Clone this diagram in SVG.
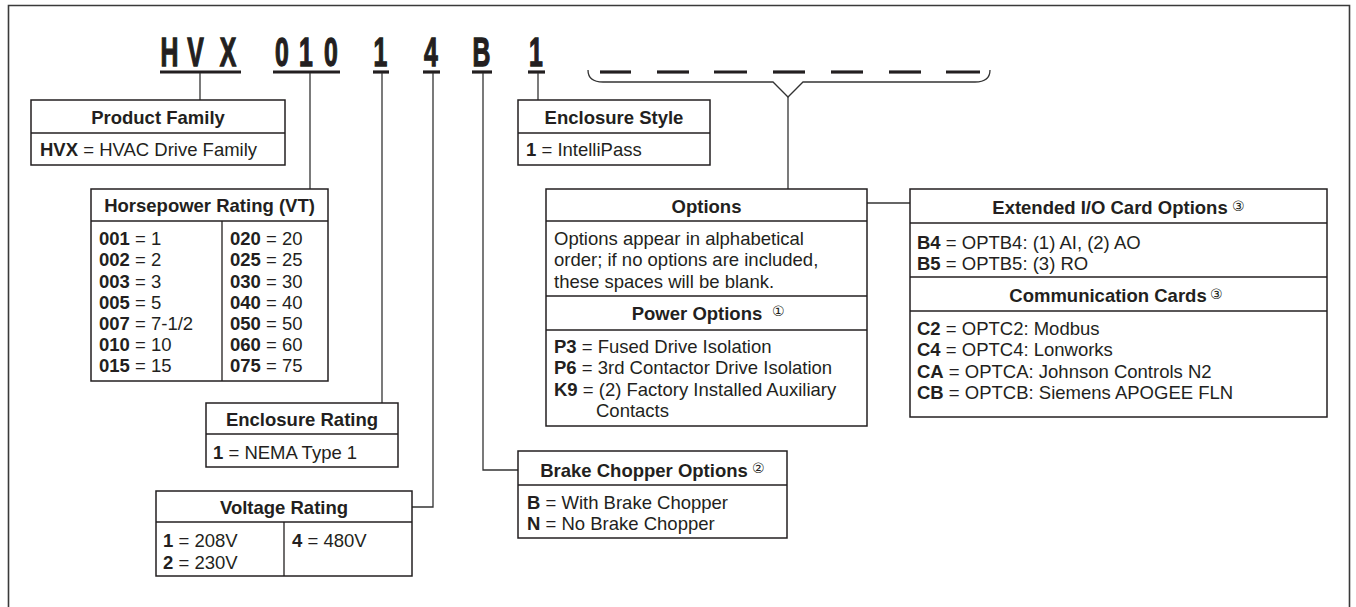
<svg xmlns="http://www.w3.org/2000/svg" width="1356" height="607" viewBox="0 0 1356 607">
<style>
.frame{fill:none;stroke:#3a3a3a;stroke-width:1.6}
.box{fill:#fff;stroke:#231f20;stroke-width:1.5}
.div{fill:none;stroke:#231f20;stroke-width:1.3}
.ln{fill:none;stroke:#333;stroke-width:1.3}
.ul{stroke:#231f20;stroke-width:3.2}
.code{font-family:"Liberation Sans",Arial,sans-serif;font-weight:bold;font-size:40px;fill:#231f20;stroke:#231f20;stroke-width:1.3;text-anchor:middle}
.h{font-family:"Liberation Sans",Arial,sans-serif;font-weight:bold;font-size:18.5px;fill:#231f20;text-anchor:middle}
.t{font-family:"Liberation Sans",Arial,sans-serif;font-size:18.5px;fill:#231f20}
.t tspan.b{font-weight:bold}
.n{font-family:"DejaVu Sans","Noto Sans CJK SC",sans-serif;font-size:14px;fill:#231f20;font-weight:normal}
</style>
<rect width="1356" height="607" fill="#fff"/>
<path class="frame" d="M8.5,607 L8.5,5.5 L1349.5,5.5 L1349.5,607"/>

<g id="code">
  <g transform="scale(0.62,1)">
    <text class="code" x="273.4" y="66">H</text>
    <text class="code" x="315.3" y="66">V</text>
    <text class="code" x="367.7" y="66">X</text>
    <text class="code" x="454.8" y="66">0</text>
    <text class="code" x="493.5" y="66">1</text>
    <text class="code" x="533.9" y="66">0</text>
    <text class="code" x="613.7" y="66">1</text>
    <text class="code" x="695.2" y="66">4</text>
    <text class="code" x="776.6" y="66">B</text>
    <text class="code" x="864.5" y="66">1</text>
  </g>
  <line class="ul" x1="160" y1="72" x2="241" y2="72"/>
  <line class="ul" x1="273" y1="72" x2="340" y2="72"/>
  <line class="ul" x1="373" y1="72" x2="389" y2="72"/>
  <line class="ul" x1="423" y1="72" x2="440" y2="72"/>
  <line class="ul" x1="472" y1="72" x2="492" y2="72"/>
  <line class="ul" x1="528" y1="72" x2="545" y2="72"/>
  <line class="ul" x1="600" y1="72" x2="631" y2="72"/>
  <line class="ul" x1="657" y1="72" x2="689" y2="72"/>
  <line class="ul" x1="714" y1="72" x2="747" y2="72"/>
  <line class="ul" x1="773" y1="72" x2="805" y2="72"/>
  <line class="ul" x1="831" y1="72" x2="863" y2="72"/>
  <line class="ul" x1="889" y1="72" x2="921" y2="72"/>
  <line class="ul" x1="946" y1="72" x2="980" y2="72"/>
</g>

<g id="connectors">
  <line class="ln" x1="200" y1="73" x2="200" y2="100"/>
  <line class="ln" x1="310" y1="73" x2="310" y2="189"/>
  <line class="ln" x1="382" y1="73" x2="382" y2="403"/>
  <polyline class="ln" points="433,73 433,507 412,507"/>
  <polyline class="ln" points="483,73 483,470 518,470"/>
  <line class="ln" x1="538" y1="73" x2="538" y2="100"/>
  <path class="ln" d="M588,70 Q588,82 603,82 L773,82 L788,97 L803,82 L975,82 Q990,82 990,70"/>
  <line class="ln" x1="788" y1="97" x2="788" y2="189"/>
  <line class="ln" x1="867" y1="203" x2="910" y2="203"/>
</g>

<g id="product-family">
  <rect class="box" x="31" y="100" width="254" height="65"/>
  <line class="div" x1="31" y1="133" x2="285" y2="133"/>
  <text class="h" x="158" y="123.5">Product Family</text>
  <text class="t" x="40" y="156"><tspan class="b">HVX</tspan> = HVAC Drive Family</text>
</g>

<g id="enclosure-style">
  <rect class="box" x="518" y="100" width="192" height="65"/>
  <line class="div" x1="518" y1="133" x2="710" y2="133"/>
  <text class="h" x="614" y="123.5">Enclosure Style</text>
  <text class="t" x="526" y="156"><tspan class="b">1</tspan> = IntelliPass</text>
</g>

<g id="horsepower-rating">
  <rect class="box" x="91" y="189" width="237" height="192"/>
  <line class="div" x1="91" y1="221" x2="328" y2="221"/>
  <line class="div" x1="222" y1="221" x2="222" y2="381"/>
  <text class="h" x="209.5" y="211.5">Horsepower Rating (VT)</text>
  <text class="t" x="99" y="245"><tspan class="b">001</tspan> = 1</text>
  <text class="t" x="99" y="266"><tspan class="b">002</tspan> = 2</text>
  <text class="t" x="99" y="287.5"><tspan class="b">003</tspan> = 3</text>
  <text class="t" x="99" y="308.5"><tspan class="b">005</tspan> = 5</text>
  <text class="t" x="99" y="329.5"><tspan class="b">007</tspan> = 7-1/2</text>
  <text class="t" x="99" y="350.5"><tspan class="b">010</tspan> = 10</text>
  <text class="t" x="99" y="371.5"><tspan class="b">015</tspan> = 15</text>
  <text class="t" x="230" y="245"><tspan class="b">020</tspan> = 20</text>
  <text class="t" x="230" y="266"><tspan class="b">025</tspan> = 25</text>
  <text class="t" x="230" y="287.5"><tspan class="b">030</tspan> = 30</text>
  <text class="t" x="230" y="308.5"><tspan class="b">040</tspan> = 40</text>
  <text class="t" x="230" y="329.5"><tspan class="b">050</tspan> = 50</text>
  <text class="t" x="230" y="350.5"><tspan class="b">060</tspan> = 60</text>
  <text class="t" x="230" y="371.5"><tspan class="b">075</tspan> = 75</text>
</g>

<g id="enclosure-rating">
  <rect class="box" x="206" y="403" width="192" height="64"/>
  <line class="div" x1="206" y1="434" x2="398" y2="434"/>
  <text class="h" x="302" y="426">Enclosure Rating</text>
  <text class="t" x="213" y="458.5"><tspan class="b">1</tspan> = NEMA Type 1</text>
</g>

<g id="voltage-rating">
  <rect class="box" x="156" y="491" width="256" height="85"/>
  <line class="div" x1="156" y1="522" x2="412" y2="522"/>
  <line class="div" x1="284" y1="522" x2="284" y2="576"/>
  <text class="h" x="284" y="513.5">Voltage Rating</text>
  <text class="t" x="163" y="546.5"><tspan class="b">1</tspan> = 208V</text>
  <text class="t" x="163" y="568.5"><tspan class="b">2</tspan> = 230V</text>
  <text class="t" x="292" y="546.5"><tspan class="b">4</tspan> = 480V</text>
</g>

<g id="brake-chopper">
  <rect class="box" x="518" y="451" width="269" height="87"/>
  <line class="div" x1="518" y1="485" x2="787" y2="485"/>
  <text class="h" x="644" y="476.5">Brake Chopper Options</text>
  <text class="n" x="752" y="473">②</text>
  <text class="t" x="527" y="508.5"><tspan class="b">B</tspan> = With Brake Chopper</text>
  <text class="t" x="527" y="529.5"><tspan class="b">N</tspan> = No Brake Chopper</text>
</g>

<g id="options">
  <rect class="box" x="546" y="189" width="321" height="237"/>
  <line class="div" x1="546" y1="221" x2="867" y2="221"/>
  <line class="div" x1="546" y1="296" x2="867" y2="296"/>
  <line class="div" x1="546" y1="330" x2="867" y2="330"/>
  <text class="h" x="706.5" y="212.5">Options</text>
  <text class="t" x="554" y="244.5">Options appear in alphabetical</text>
  <text class="t" x="554" y="266">order; if no options are included,</text>
  <text class="t" x="554" y="287.5">these spaces will be blank.</text>
  <text class="h" x="697" y="319.5">Power Options</text>
  <text class="n" x="772" y="316">①</text>
  <text class="t" x="554" y="352.5"><tspan class="b">P3</tspan> = Fused Drive Isolation</text>
  <text class="t" x="554" y="374"><tspan class="b">P6</tspan> = 3rd Contactor Drive Isolation</text>
  <text class="t" x="554" y="395.5"><tspan class="b">K9</tspan> = (2) Factory Installed Auxiliary</text>
  <text class="t" x="596" y="416.5">Contacts</text>
</g>

<g id="extended-io">
  <rect class="box" x="910" y="189" width="417" height="228"/>
  <line class="div" x1="910" y1="223" x2="1327" y2="223"/>
  <line class="div" x1="910" y1="277" x2="1327" y2="277"/>
  <line class="div" x1="910" y1="311" x2="1327" y2="311"/>
  <text class="h" x="1110" y="213.5">Extended I/O Card Options</text>
  <text class="n" x="1232" y="211">③</text>
  <text class="t" x="917" y="249"><tspan class="b">B4</tspan> = OPTB4: (1) AI, (2) AO</text>
  <text class="t" x="917" y="269.5"><tspan class="b">B5</tspan> = OPTB5: (3) RO</text>
  <text class="h" x="1108" y="301.5">Communication Cards</text>
  <text class="n" x="1210" y="299">③</text>
  <text class="t" x="917" y="334.5"><tspan class="b">C2</tspan> = OPTC2: Modbus</text>
  <text class="t" x="917" y="356"><tspan class="b">C4</tspan> = OPTC4: Lonworks</text>
  <text class="t" x="917" y="377.5"><tspan class="b">CA</tspan> = OPTCA: Johnson Controls N2</text>
  <text class="t" x="917" y="398.5"><tspan class="b">CB</tspan> = OPTCB: Siemens APOGEE FLN</text>
</g>
</svg>
